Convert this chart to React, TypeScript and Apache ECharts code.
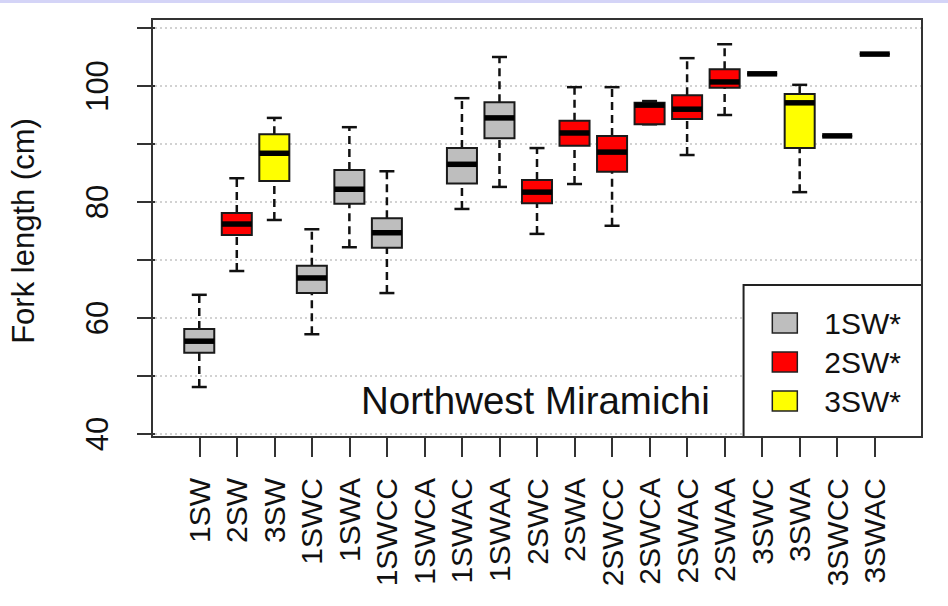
import React, { useEffect, useRef } from "react";
import * as echarts from "echarts";

const FONT = "'Liberation Sans', Arial, Helvetica, sans-serif";

// Sea-age / spawning-history classes along the x axis
const categories = [
  "1SW", "2SW", "3SW", "1SWC", "1SWA", "1SWCC", "1SWCA", "1SWAC", "1SWAA",
  "2SWC", "2SWA", "2SWCC", "2SWCA", "2SWAC", "2SWAA", "3SWC", "3SWA", "3SWCC", "3SWAC",
];

// Maiden sea-age group of each class (index into groupNames); 1SWCA has no fish
const categoryGroup = [0, 1, 2, 0, 0, 0, 0, 0, 0, 1, 1, 1, 1, 1, 1, 2, 2, 2, 2];

// Fork length (cm): [lower whisker, Q1, median, Q3, upper whisker]
const boxStats: (number[] | null)[] = [
  [48.1, 54.0, 56.0, 58.1, 64.0],
  [68.1, 74.3, 76.2, 78.1, 84.1],
  [76.9, 83.6, 88.4, 91.7, 94.5],
  [57.2, 64.3, 66.9, 69.0, 75.3],
  [72.2, 79.7, 82.2, 85.5, 92.9],
  [64.3, 72.1, 74.7, 77.2, 85.3],
  null,
  [78.8, 83.2, 86.5, 89.3, 97.9],
  [82.6, 91.0, 94.5, 97.2, 105.0],
  [74.5, 79.8, 81.7, 83.8, 89.3],
  [83.1, 89.7, 91.9, 94.0, 99.8],
  [75.9, 85.2, 88.6, 91.4, 99.8],
  [93.4, 93.4, 96.7, 97.1, 97.4],
  [88.1, 94.3, 96.0, 98.4, 104.8],
  [95.0, 99.7, 100.7, 102.9, 107.2],
  [102.1, 102.1, 102.1, 102.1, 102.1],
  [81.7, 89.3, 97.1, 98.6, 100.2],
  [91.4, 91.4, 91.4, 91.4, 91.4],
  [105.5, 105.5, 105.5, 105.5, 105.5],
];

const groupNames = ["1SW*", "2SW*", "3SW*"];
const groupColors = ["#bebebe", "#ff0000", "#ffff00"];

const yMin = 40;
const yMax = 110;
const yStep = 10;
const yLabelled = [40, 60, 80, 100];

const riverName = "Northwest Miramichi";

function renderBox(_params: any, api: any) {
  const x = api.value(0);
  const pMin = api.coord([x, api.value(1)]);
  const pQ1 = api.coord([x, api.value(2)]);
  const pMed = api.coord([x, api.value(3)]);
  const pQ3 = api.coord([x, api.value(4)]);
  const pMax = api.coord([x, api.value(5)]);
  const band = api.size([1, 0])[0];
  const half = band * 0.4;
  const cap = half / 2;
  const cx = pMed[0];
  const fill = api.visual("color");
  const dashed = { stroke: "#111", lineWidth: 2.5, lineDash: [8, 5], fill: null };
  const solid = { stroke: "#111", lineWidth: 2.5, fill: null };
  return {
    type: "group",
    children: [
      { type: "line", shape: { x1: cx, y1: pQ3[1], x2: cx, y2: pMax[1] }, style: dashed },
      { type: "line", shape: { x1: cx, y1: pMin[1], x2: cx, y2: pQ1[1] }, style: dashed },
      { type: "line", shape: { x1: cx - cap, y1: pMax[1], x2: cx + cap, y2: pMax[1] }, style: solid },
      { type: "line", shape: { x1: cx - cap, y1: pMin[1], x2: cx + cap, y2: pMin[1] }, style: solid },
      {
        type: "rect",
        shape: { x: cx - half, y: pQ3[1], width: half * 2, height: pQ1[1] - pQ3[1] },
        style: { fill, stroke: "#1a1a1a", lineWidth: 2 },
      },
      {
        type: "line",
        shape: { x1: cx - half, y1: pMed[1], x2: cx + half, y2: pMed[1] },
        style: { stroke: "#000", lineWidth: 5.5 },
      },
    ],
  };
}

export default function App() {
  const ref = useRef<HTMLDivElement>(null);

  useEffect(() => {
    if (!ref.current) return;
    const chart = echarts.init(ref.current, null, { renderer: "svg" });

    const series = groupNames.map((name, g) => ({
      name,
      type: "custom",
      xAxisIndex: 1,
      yAxisIndex: 1,
      itemStyle: { color: groupColors[g] },
      encode: { x: 0, y: [1, 2, 3, 4, 5] },
      renderItem: renderBox,
      data: boxStats
        .map((s, i) => (s && categoryGroup[i] === g ? [i, ...s] : null))
        .filter((d) => d !== null),
      z: 3,
    }));

    chart.setOption({
      animation: false,
      backgroundColor: "#ffffff",
      textStyle: { fontFamily: FONT },
      grid: [
        { left: 152, right: 26, top: 28, bottom: 172 },
        { left: 180.5, right: 54.5, top: 28, bottom: 172 },
      ],
      xAxis: [
        { type: "value", gridIndex: 0, show: false, min: 0, max: 1 },
        {
          type: "category",
          gridIndex: 1,
          data: categories,
          offset: 3,
          axisLine: { show: false },
          axisTick: { show: true, alignWithLabel: true, length: 20, lineStyle: { color: "#333", width: 2 } },
          axisLabel: { rotate: 90, margin: 41, fontSize: 30, color: "#111", fontFamily: FONT, interval: 0 },
          splitLine: { show: false },
        },
      ],
      yAxis: [
        {
          type: "value",
          gridIndex: 0,
          min: yMin,
          max: yMax,
          interval: yStep,
          axisLine: { show: false },
          axisTick: { show: true, length: 18, lineStyle: { color: "#333", width: 2 } },
          axisLabel: {
            rotate: 90,
            margin: 42,
            fontSize: 31,
            color: "#111",
            fontFamily: FONT,
            formatter: (v: number) => (yLabelled.includes(v) ? String(v) : ""),
          },
          splitLine: { show: true, lineStyle: { color: "#c4c4c4", type: [2, 3], width: 1.5 } },
          name: "Fork length (cm)",
          nameLocation: "middle",
          nameRotate: 90,
          nameGap: 116,
          nameTextStyle: { fontSize: 31, color: "#111", fontFamily: FONT },
        },
        { type: "value", gridIndex: 1, min: yMin, max: yMax, show: false },
      ],
      legend: {
        data: groupNames,
        orient: "vertical",
        right: 26,
        bottom: 169,
        padding: [23, 21, 21, 28],
        itemGap: 9,
        itemWidth: 25,
        itemHeight: 20,
        icon: "rect",
        backgroundColor: "#ffffff",
        borderColor: "#222",
        borderWidth: 2,
        borderRadius: 0,
        itemStyle: { borderColor: "#222", borderWidth: 1.5 },
        textStyle: { fontSize: 30, color: "#111", fontFamily: FONT, padding: [0, 0, 0, 22] },
        selectedMode: false,
      },
      graphic: [
        {
          type: "rect",
          z: 100,
          shape: { x: 0, y: 0, width: 948, height: 3 },
          style: { fill: "#d4d4f7" },
        },
        {
          type: "rect",
          z: 50,
          shape: { x: 152, y: 19, width: 770, height: 418 },
          style: { fill: null, stroke: "#333", lineWidth: 2 },
        },
        {
          type: "text",
          z: 50,
          x: 361,
          y: 400,
          style: {
            text: riverName,
            fontSize: 38.5,
            fontFamily: FONT,
            fill: "#111",
            align: "left",
            verticalAlign: "middle",
          },
        },
      ],
      series,
    });

    return () => chart.dispose();
  }, []);

  return (
    <div style={{ position: "absolute", left: 0, top: 0, width: 948, height: 606, background: "#fff" }}>
      <div ref={ref} style={{ width: 948, height: 606 }} />
    </div>
  );
}
